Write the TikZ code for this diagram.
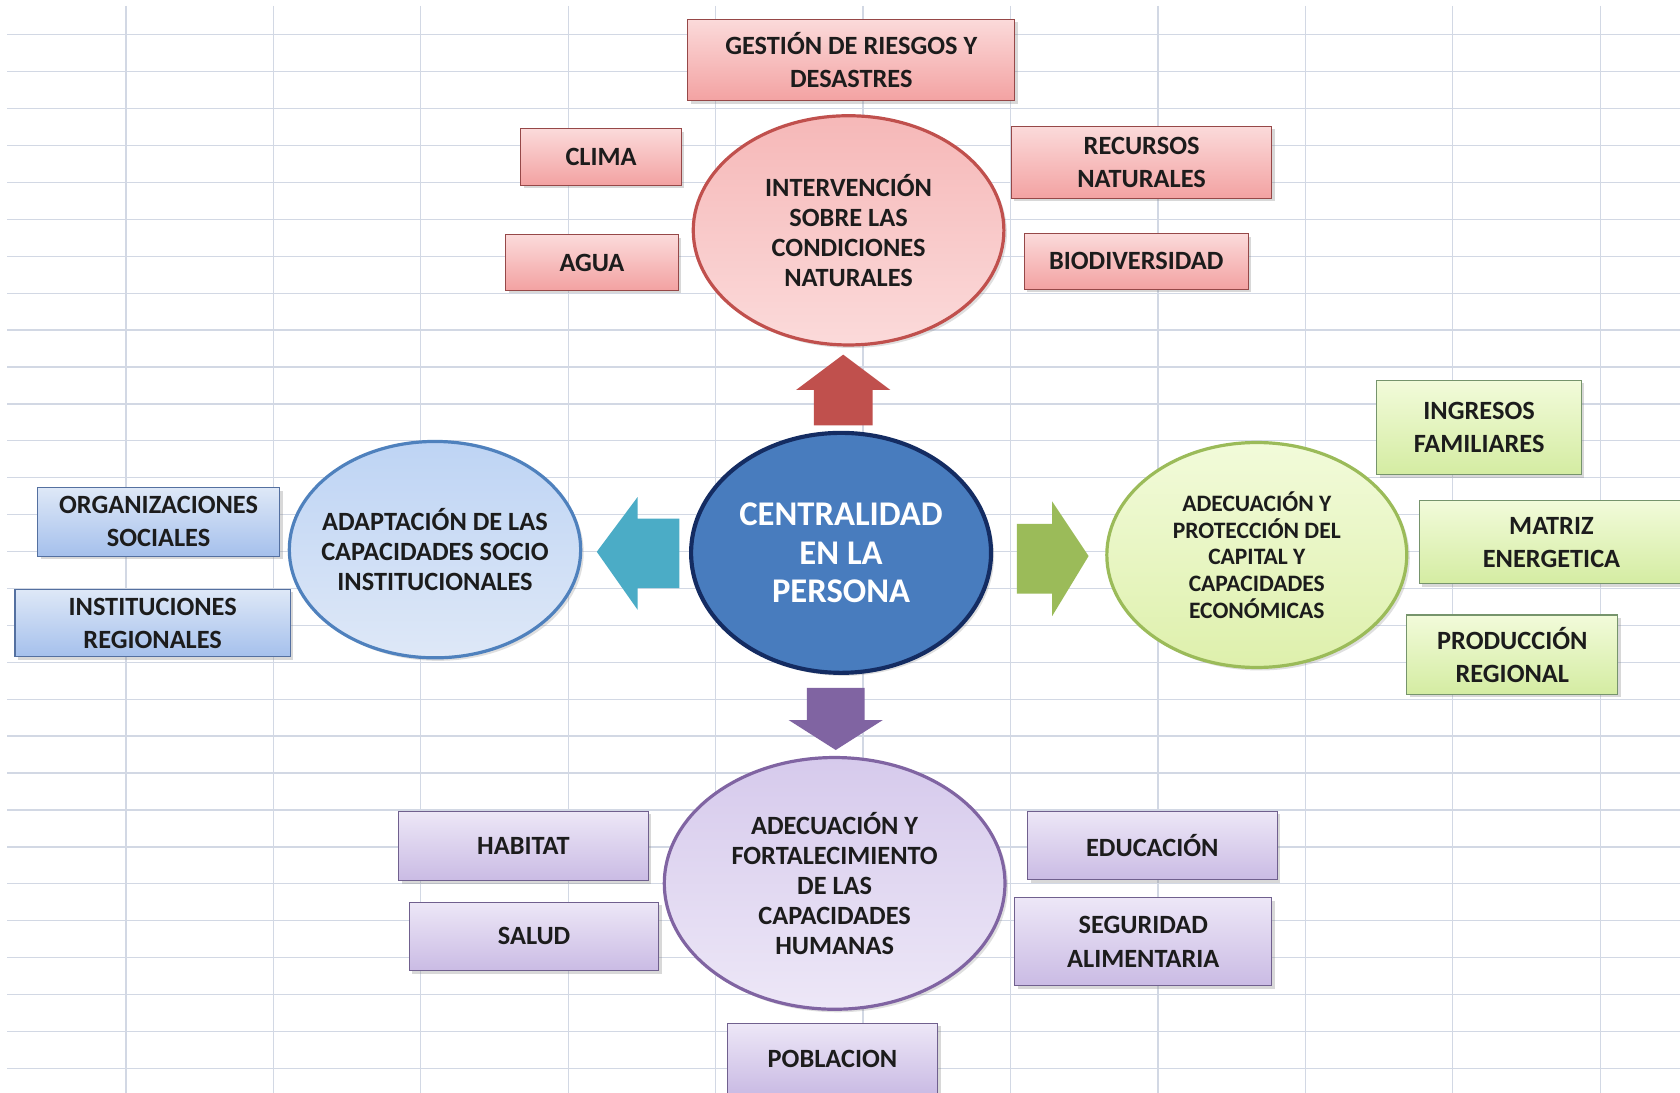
\documentclass[tikz,border=0pt]{standalone}
\usepackage{fontspec}
\setmainfont{Carlito}
\usepackage{xcolor}
\usepackage{tikz}
\usetikzlibrary{shapes.geometric,shadows}

\definecolor{gridline}{RGB}{210,216,228}
\definecolor{inkdark}{RGB}{28,28,28}
\definecolor{redline}{RGB}{150,72,72}
\definecolor{redtop}{RGB}{251,218,218}
\definecolor{redbot}{RGB}{243,162,162}
\definecolor{redring}{RGB}{192,80,77}
\definecolor{redfill}{RGB}{246,184,184}
\definecolor{bluline}{RGB}{84,112,160}
\definecolor{blutop}{RGB}{222,232,247}
\definecolor{blubot}{RGB}{165,192,236}
\definecolor{bluring}{RGB}{79,129,189}
\definecolor{blufill}{RGB}{190,212,244}
\definecolor{coreblue}{RGB}{72,124,190}
\definecolor{coreline}{RGB}{20,44,98}
\definecolor{grnline}{RGB}{118,148,108}
\definecolor{grntop}{RGB}{242,251,218}
\definecolor{grnbot}{RGB}{212,236,162}
\definecolor{grnring}{RGB}{155,187,89}
\definecolor{grnfill}{RGB}{222,240,172}
\definecolor{purline}{RGB}{112,96,142}
\definecolor{purtop}{RGB}{237,231,247}
\definecolor{purbot}{RGB}{202,187,228}
\definecolor{purring}{RGB}{128,100,162}
\definecolor{purfill}{RGB}{214,202,236}
\definecolor{arrcyan}{RGB}{75,172,198}

\begin{document}
\begin{tikzpicture}[
    x=0.02cm, y=-0.02cm,
    box/.style={rectangle, draw, line width=0.6pt, align=center, inner sep=2pt,
                font=\fontsize{14}{17.6}\selectfont\bfseries, text=inkdark,
                drop shadow={shadow xshift=1.6pt, shadow yshift=-1.6pt, opacity=0.3}},
    redbox/.style={box, draw=redline, top color=redtop, bottom color=redbot},
    blubox/.style={box, draw=bluline, top color=blutop, bottom color=blubot},
    grnbox/.style={box, draw=grnline, top color=grntop, bottom color=grnbot},
    purbox/.style={box, draw=purline, top color=purtop, bottom color=purbot},
    bubble/.style={ellipse, line width=1.7pt, align=center, inner sep=-1cm, text=inkdark,
                   font=\fontsize{14}{16}\selectfont\bfseries,
                   drop shadow={shadow xshift=1.6pt, shadow yshift=-1.6pt, opacity=0.25}},
    redbub/.style={bubble, draw=redring, top color=redfill, bottom color=redtop},
    blubub/.style={bubble, draw=bluring, top color=blufill, bottom color=blutop},
    grnbub/.style={bubble, draw=grnring, top color=grntop, bottom color=grnfill},
    purbub/.style={bubble, draw=purring, top color=purfill, bottom color=purtop}
]

% ---- Page and spreadsheet grid (px of the reference) ----
\useasboundingbox (0,0) rectangle (1568,1020);
\fill[white] (0,0) rectangle (1568,1020);
\foreach \gx in {0,...,10}
    \draw[gridline, line width=0.7pt] (117.5+137.6*\gx,5.6) -- (117.5+137.6*\gx,1020);
\foreach \gy in {0,...,28}
    \draw[gridline, line width=0.7pt] (6.7,32.5+34.45*\gy) -- (1568,32.5+34.45*\gy);

% ---- Centre ----
\node[ellipse, draw=coreline, line width=2.2pt, fill=coreblue, minimum width=5.6cm,
      minimum height=4.48cm, inner sep=-1cm, align=center, text=white,
      font=\fontsize{18.4}{20.4}\selectfont\bfseries,
      drop shadow={shadow xshift=1.6pt, shadow yshift=-1.6pt, opacity=0.25}]
      (persona) at (785,516) {CENTRALIDAD\\EN LA\\PERSONA};

% ---- Block arrows out of the centre ----
\coordinate (tipN) at (787,331);
\coordinate (tipW) at (557,515);
\coordinate (tipE) at (1016,519);
\coordinate (tipS) at (780,700);
\fill[redring] (tipN) -- ++(44,33) -- ++(-16.5,0) -- ++(0,33) -- ++(-55,0)
      -- ++(0,-33) -- ++(-16.5,0) -- cycle;
\fill[arrcyan] (tipW) -- ++(38,-51) -- ++(0,20) -- ++(39,0) -- ++(0,65)
      -- ++(-39,0) -- ++(0,20) -- cycle;
\fill[grnring] (tipE) -- ++(-34,-51) -- ++(0,21) -- ++(-33,0) -- ++(0,65)
      -- ++(33,0) -- ++(0,21) -- cycle;
\fill[purring] (tipS) -- ++(44,-28) -- ++(-17,0) -- ++(0,-30) -- ++(-54,0)
      -- ++(0,30) -- ++(-17,0) -- cycle;

% ---- Natural conditions (top) ----
\node[redbub, minimum width=5.8cm, minimum height=4.28cm] (natural) at (792,215)
      {INTERVENCIÓN\\SOBRE LAS\\CONDICIONES\\NATURALES};
\node[redbox, minimum width=6.1cm, minimum height=1.52cm] (riesgos) at (794.5,56)
      {GESTIÓN DE RIESGOS Y\\DESASTRES};
\node[redbox, minimum width=3.0cm, minimum height=1.06cm] (clima) at (561,146.5) {CLIMA};
\node[redbox, minimum width=3.22cm, minimum height=1.04cm] (agua) at (552.5,245) {AGUA};
\node[redbox, minimum width=4.86cm, minimum height=1.34cm] (recursos) at (1065.5,151.5)
      {RECURSOS\\NATURALES};
\node[redbox, minimum width=4.18cm, minimum height=1.04cm] (biodiv) at (1060.5,244)
      {BIODIVERSIDAD};

% ---- Socio-institutional (left) ----
\node[blubub, minimum width=5.44cm, minimum height=4.04cm] (socio) at (406,513)
      {ADAPTACIÓN DE LAS\\CAPACIDADES SOCIO\\INSTITUCIONALES};
\node[blubox, minimum width=4.52cm, minimum height=1.28cm] (orgs) at (148,487)
      {ORGANIZACIONES\\SOCIALES};
\node[blubox, minimum width=5.14cm, minimum height=1.26cm] (insts) at (142.5,581.5)
      {INSTITUCIONES\\REGIONALES};

% ---- Economic capital (right) ----
\node[grnbub, minimum width=5.6cm, minimum height=4.2cm,
      font=\fontsize{12.5}{14.2}\selectfont\bfseries] (economia) at (1173,518)
      {ADECUACIÓN Y\\PROTECCIÓN DEL\\CAPITAL Y\\CAPACIDADES\\ECONÓMICAS};
\node[grnbox, minimum width=3.82cm, minimum height=1.76cm] (ingresos) at (1380.5,399)
      {INGRESOS\\FAMILIARES};
\node[grnbox, minimum width=4.94cm, minimum height=1.56cm] (matriz) at (1448,506)
      {MATRIZ\\ENERGETICA};
\node[grnbox, minimum width=3.94cm, minimum height=1.48cm] (produccion) at (1411.5,611)
      {PRODUCCIÓN\\REGIONAL};

% ---- Human capacities (bottom) ----
\node[purbub, minimum width=6.36cm, minimum height=4.7cm] (humanas) at (779,824.5)
      {ADECUACIÓN Y\\FORTALECIMIENTO\\DE LAS\\CAPACIDADES\\HUMANAS};
\node[purbox, minimum width=4.66cm, minimum height=1.3cm] (habitat) at (488.5,789.5) {HABITAT};
\node[purbox, minimum width=4.66cm, minimum height=1.28cm] (salud) at (498.5,874) {SALUD};
\node[purbox, minimum width=4.66cm, minimum height=1.28cm] (educacion) at (1075.5,789)
      {EDUCACIÓN};
\node[purbox, minimum width=4.8cm, minimum height=1.64cm] (seguridad) at (1067,879)
      {SEGURIDAD\\ALIMENTARIA};
\node[purbox, minimum width=3.92cm, minimum height=1.32cm] (poblacion) at (777,988)
      {POBLACION};

\end{tikzpicture}
\end{document}
